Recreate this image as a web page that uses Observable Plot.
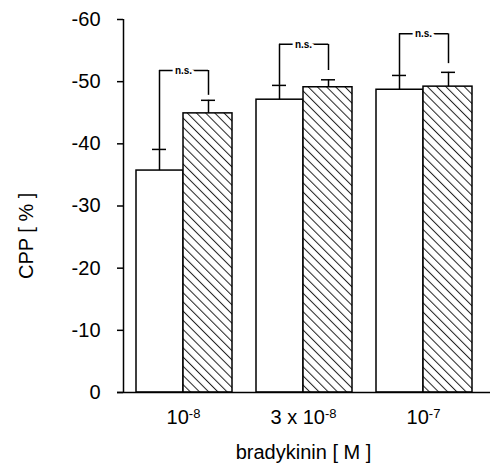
<!DOCTYPE html>
<html>
<head>
<meta charset="utf-8">
<script src="https://cdn.jsdelivr.net/npm/d3@7"></script>
<script src="https://cdn.jsdelivr.net/npm/@observablehq/plot@0.6"></script>
<style>
  html, body { margin: 0; padding: 0; background: #fff; }
</style>
</head>
<body>
<div id="chart"></div>
<script>
// Categories (tick labels use "^" to mark the exponent)
const groups = ["10^-8", "3 x 10^-8", "10^-7"];
// Control (open bars) and treated (hatched bars), CPP in %
const control = [-35.7, -47.1, -48.7];
const controlErr = [-39.1, -49.4, -51.0];
const treated = [-44.9, -49.1, -49.2];
const treatedErr = [-47.0, -50.3, -51.5];
// significance brackets
const bracketTop = [-51.8, -56.0, -57.7];
const bracketRightEnd = [-47.8, -51.8, -52.9];
const sigLabels = ["n.s.", "n.s.", "n.s."];
const yTicks = [0, -10, -20, -30, -40, -50, -60];
const yDomain = [0, -60];

const rows = groups.map((g, i) => ({
  group: g,
  control: control[i], controlErr: controlErr[i],
  treated: treated[i], treatedErr: treatedErr[i],
  top: bracketTop[i], rightEnd: bracketRightEnd[i], sig: sigLabels[i]
}));

const sw = 1.5;
const chart = Plot.plot({
  width: 492,
  height: 468,
  marginLeft: 123,
  marginRight: 9,
  marginTop: 19,
  marginBottom: 76,
  style: {fontFamily: "'Liberation Sans', Arial, sans-serif", fontSize: "20px", color: "#000", background: "#fff"},
  x: {type: "band", domain: groups, padding: 0},
  y: {domain: yDomain},
  marks: [
    // bars
    Plot.barY(rows, {x: "group", y1: 0, y2: "control", fill: "white", stroke: "black", strokeWidth: sw, insetLeft: 13, insetRight: 60}),
    Plot.barY(rows, {x: "group", y1: 0, y2: "treated", fill: "url(#hatch)", stroke: "black", strokeWidth: sw, insetLeft: 60, insetRight: 11}),
    // error bars
    Plot.ruleX(rows, {x: "group", y1: "control", y2: "controlErr", dx: -24, stroke: "black", strokeWidth: sw}),
    Plot.tickY(rows, {x: "group", y: "controlErr", insetLeft: 29, insetRight: 77, stroke: "black", strokeWidth: sw}),
    Plot.ruleX(rows, {x: "group", y1: "treated", y2: "treatedErr", dx: 25, stroke: "black", strokeWidth: sw}),
    Plot.tickY(rows, {x: "group", y: "treatedErr", insetLeft: 78, insetRight: 28, stroke: "black", strokeWidth: sw}),
    // brackets
    Plot.ruleX(rows, {x: "group", y1: "controlErr", y2: "top", dx: -24, stroke: "black", strokeWidth: sw}),
    Plot.ruleX(rows, {x: "group", y1: "rightEnd", y2: "top", dx: 25, stroke: "black", strokeWidth: sw}),
    Plot.tickY(rows, {x: "group", y: "top", insetLeft: 36, insetRight: 35, stroke: "black", strokeWidth: sw}),
    Plot.text(rows, {x: "group", y: "top", text: "sig", fontSize: 10, fontWeight: "bold", fill: "black", stroke: "white", strokeWidth: 6, paintOrder: "stroke"}),
    // axis lines
    Plot.ruleY([0], {stroke: "black", strokeWidth: sw, insetLeft: -6, insetRight: -7}),
    Plot.ruleX([groups[0]], {x: d => d, y1: yDomain[0], y2: yDomain[1], dx: -60, stroke: "black", strokeWidth: sw}),
    // axes
    Plot.axisY({ticks: yTicks, tickFormat: d => String(d), tickSize: 6, tickPadding: 17, label: null, strokeWidth: sw, fontSize: 20}),
    Plot.axisX({tickSize: 0, tickPadding: 17, label: "bradykinin [ M ]", labelAnchor: "center", labelArrow: "none", labelOffset: 66, fontSize: 20}),
    Plot.text(["CPP [ % ]"], {frameAnchor: "left", textAnchor: "start", rotate: -90, dx: -97, dy: 73, fontSize: 20, fill: "black"})
  ]
});

const svg = d3.select(chart);
svg.insert("defs", ":first-child").html(
  `<pattern id="hatch" patternUnits="userSpaceOnUse" width="6.5" height="6.5" patternTransform="rotate(-45)">
     <rect width="6.5" height="6.5" fill="white"/>
     <line x1="0.5" y1="0" x2="0.5" y2="6.5" stroke="#222" stroke-width="1"/>
   </pattern>`
);
// superscript exponents in the x tick labels
svg.selectAll("g[aria-label='x-axis tick label'] text").each(function() {
  const t = this.textContent;
  const parts = t.split("^");
  if (parts.length === 2) {
    const sel = d3.select(this);
    sel.text(parts[0]);
    sel.append("tspan").attr("dy", "-0.42em").attr("font-size", "13px").text(parts[1]);
  }
});
document.getElementById("chart").appendChild(chart);
</script>
</body>
</html>
